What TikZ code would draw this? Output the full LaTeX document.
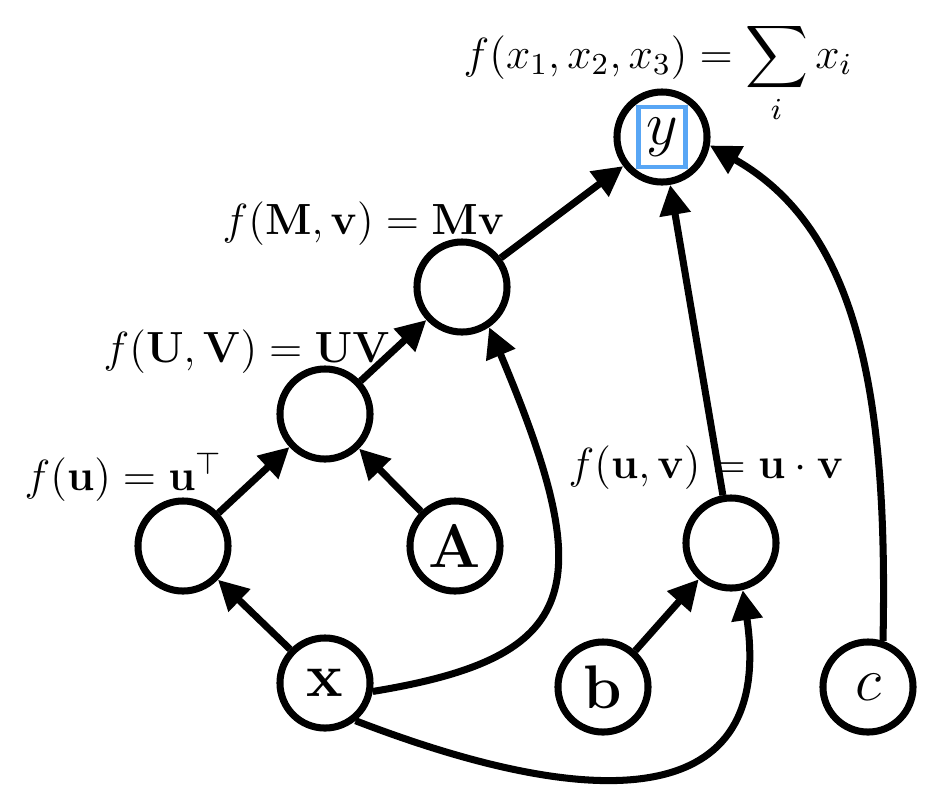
\RequirePackage{fix-cm}
\documentclass[tikz,border=0pt]{standalone}
\usepackage{amsmath,amssymb}
\usetikzlibrary{arrows.meta,positioning}
\definecolor{boxblue}{RGB}{88,166,245}

\begin{document}
\begin{tikzpicture}[
  x=0.01cm, y=-0.01cm,
  var/.style={draw, circle, line width=2pt, minimum size=0.9cm, inner sep=0pt,
    font=\fontsize{17.5}{20}\selectfont},
  lbl/.style={anchor=base west, inner sep=0pt, font=\fontsize{12.4}{15}\selectfont},
  arrow/.style={-{Triangle[length=0.3cm,width=0.3cm]}, line width=2pt}
]
\useasboundingbox (0,0) rectangle (942,796);

% variables
\node[var] (y) at (662,137) {};
\node[draw=boxblue, line width=1.3pt, inner sep=0pt, minimum width=0.47cm,
  minimum height=0.6cm, font=\fontsize{17.5}{20}\selectfont] (ybox) at (y) {$y$};
\node[var] (mv) at (462,287) {};
\node[var] (uv) at (325,414) {};
\node[var] (ut) at (183,546) {};
\node[var] (A) at (455,546) {$\mathbf{A}$};
\node[var] (x) at (325,683) {$\mathbf{x}$};
\node[var] (dot) at (731,543) {};
\node[var] (b) at (603,687) {$\mathbf{b}$};
\node[var] (c) at (868,687) {$c$};

% functions
\node[lbl] (fy) at (463,68) {$f(x_1,x_2,x_3) = \displaystyle\sum_i x_i$};
\node[lbl] (fmv) at (222,234) {$f(\mathbf{M},\mathbf{v}) = \mathbf{M}\mathbf{v}$};
\node[lbl] (fuv) at (103,362) {$f(\mathbf{U},\mathbf{V}) = \mathbf{U}\mathbf{V}$};
\node[lbl] (fut) at (24,490) {$f(\mathbf{u}) = \mathbf{u}^\top$};
\node[lbl] (fdot) at (568,478) {$f(\mathbf{u},\mathbf{v}) = \mathbf{u}\cdot\mathbf{v}$};

% edges
\draw[arrow] (x) -- (ut);
\draw[arrow] (ut) -- (uv);
\draw[arrow] (A) -- (uv);
\draw[arrow] (uv) -- (mv);
\draw[arrow] (mv) -- (y);
\draw[arrow] (b) -- (dot);
\draw[arrow] (dot) -- (y);
\draw[arrow] (x.-10) .. controls (583,657) and (599,588) .. (mv.-56);
\draw[arrow] (x.-51) .. controls (600,815) and (775,810) .. (dot.-76);
\draw[arrow] (c.72) .. controls (888,400) and (860,230) .. (y.-10);
\end{tikzpicture}
\end{document}
